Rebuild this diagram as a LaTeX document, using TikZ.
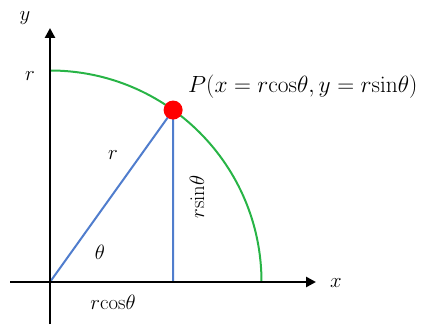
\documentclass[tikz,border=0pt]{standalone}
\usetikzlibrary{arrows.meta,calc}
\definecolor{arcgreen}{RGB}{40,180,70}
\definecolor{lineblue}{RGB}{80,125,205}
\begin{document}
\begin{tikzpicture}[x=1pt,y=1pt,
  axis/.style={line width=2.6pt,-{Triangle[length=10pt,width=10pt]}},
  lbl/.style={font=\fontsize{21}{24}\selectfont,inner sep=0pt}]
\useasboundingbox (0,0) rectangle (425,324);
\coordinate (O) at (50,42);
\coordinate (P) at ($(O)+(54.4:211.5)$);
\coordinate (xs) at (10,42);
\coordinate (xe) at (316,42);
\coordinate (ys) at (50,0);
\coordinate (ye) at (50,296);
\coordinate (F) at (O -| P);
% arc
\draw[arcgreen,line width=2pt] (50,253.5) arc[start angle=90,end angle=0,radius=211.5];
% blue lines
\draw[lineblue,line width=2pt] (O) -- (P) -- (F);
% axes
\draw[axis] (xs) -- (xe);
\draw[axis] (ys) -- (ye);
% point
\fill[red] (P) circle[radius=9.5];
% labels
\node[lbl] (ylab) at (25,306) {$y$};
\node[lbl] (rlab) at (30,248) {$r$};
\node[lbl] (xlab) at (336,41) {$x$};
\node[lbl] (th) at (100,72) {$\theta$};
\node[lbl] (rc) at (113,22) {$r\mathrm{cos}\theta$};
\node[lbl] (rr) at (113,169) {$r$};
\node[lbl,rotate=90] (rs) at (197,127) {$r\mathrm{sin}\theta$};
\node[lbl,anchor=west,scale=1.13] (Plab) at (188,237) {$P(x=r\mathrm{cos}\theta,y=r\mathrm{sin}\theta)$};
\end{tikzpicture}
\end{document}
